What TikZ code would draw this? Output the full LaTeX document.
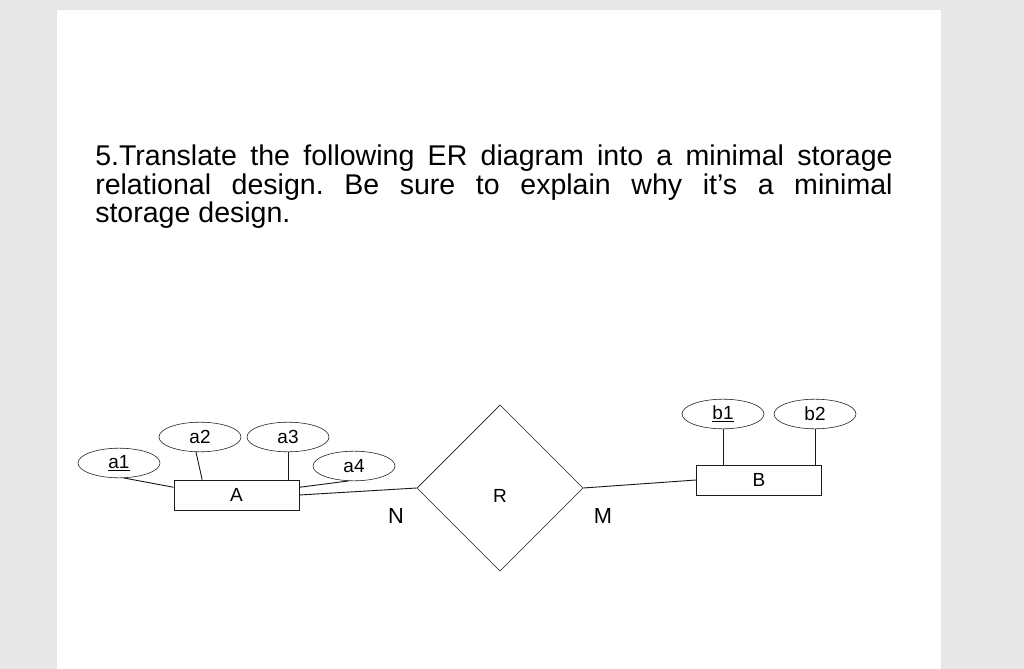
\documentclass[tikz,border=0pt]{standalone}
\usepackage{xcolor}
\usepackage{fontspec}
\setmainfont{Liberation Sans}
\usepackage{tikz}
\usetikzlibrary{shapes.geometric,positioning}

\definecolor{deskgray}{HTML}{E8E8E8}
\definecolor{inkgray}{HTML}{1A1A1A}

\begin{document}
\begin{tikzpicture}[
		    x=0.025cm, y=-0.025cm,
		    attr/.style={draw=inkgray, ellipse, minimum width=2.05cm, minimum height=0.74cm, inner sep=0pt, font=\fontsize{13.5}{15}\selectfont},
		    entity/.style={draw=inkgray, rectangle, minimum width=3.13cm, minimum height=0.75cm, inner sep=0pt, font=\fontsize{13.5}{15}\selectfont},
		    rel/.style={draw=inkgray, diamond, aspect=1, minimum width=4.15cm, minimum height=4.15cm, inner sep=0pt},
		    card/.style={font=\fontsize{15.5}{17}\selectfont},
		    conn/.style={draw=inkgray, line width=0.65pt},
		]
		    % Page
		    \useasboundingbox (0,0) rectangle (1024,669);
		    \fill [deskgray] (0,0) rectangle (1024,669);
		    \filldraw [fill=white, draw=black!10] (56,9) rectangle (941,672);
		    
		    % Question text
		    \node [anchor=north west, inner sep=0pt, text width=19.93cm, align=justify, font=\fontsize{20.3}{20}\selectfont\frenchspacing] (task) at (95,145) {5.Translate the following ER diagram into a minimal storage\linebreak relational design. Be sure to explain why it’s a minimal\linebreak storage design.};
		    
		    % Entity A with its attributes
		    \node [entity] (A) at (236.5,495) {A};
		    \node [attr] (a1) at (119,463) {\underline{a1}};
		    \node [attr] (a2) at (200,437) {a2};
		    \node [attr] (a3) at (288,437) {a3};
		    \node [attr] (a4) at (354,466) {a4};
		    
		    % Relationship R
		    \node [rel, label={[font=\fontsize{13.5}{15}\selectfont, yshift=-5.5pt]center:R}] (R) at (500,488) {};
		    \node [card] (N) at (396,516) {N};
		    \node [card] (M) at (603,516) {M};
		    
		    % Entity B with its attributes
		    \node [entity] (B) at (759,480) {B};
		    \node [attr] (b1) at (723,414) {\underline{b1}};
		    \node [attr] (b2) at (815,414) {b2};
		    
		    % Attribute lines
		    \draw [conn] (a1.-72) -- (A.173);
		    \draw [conn] (a2.-105) -- (A.156);
		    \draw [conn] (a3.south) -- (a3.south |- A.north);
		    \draw [conn] (a4.-110) -- (A.7);
		    \draw [conn] (b1.south) -- (b1.south |- B.north);
		    \draw [conn] (b2.south) -- (b2.south |- B.north);
		    
		    % Relationship lines
		    \draw [conn] (A.east) -- (R.west);
		    \draw [conn] (R.east) -- (B.west);
		\end{tikzpicture}
\end{document}
